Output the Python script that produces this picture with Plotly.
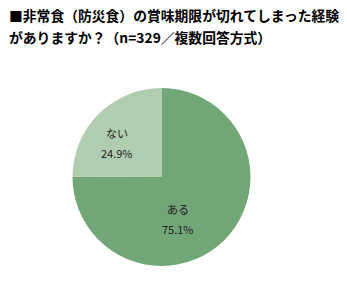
import plotly.graph_objects as go

labels = ["ある", "ない"]
values = [75.1, 24.9]
colors = ["#71A677", "#B1CDB1"]
title_lines = ["■非常食（防災食）の賞味期限が切れてしまった経験",
               "がありますか？（n=329／複数回答方式）"]

W, H = 347, 296
ml, mr, mt, mb = 72, 96, 88, 30
pw, ph = W - ml - mr, H - mt - mb
def px(x): return (x - ml) / pw
def py(y): return (H - mb - y) / ph

# label anchor positions (layout, pixel coords of text block centres)
label_pos = [(178, 219), (117, 143)]

fig = go.Figure(go.Pie(
    labels=labels, values=values, sort=False, direction="clockwise", rotation=0,
    marker=dict(colors=colors, line=dict(width=0)),
    textinfo="none", hoverinfo="none", showlegend=False,
))

for lab, val, (x, y) in zip(labels, values, label_pos):
    fig.add_annotation(text=lab, x=px(x), y=py(y - 10), xref="paper", yref="paper",
                       xanchor="center", yanchor="middle", showarrow=False,
                       font=dict(family="Noto Sans CJK JP", size=11, color="#222222"))
    fig.add_annotation(text=f"{val:.1f}%", x=px(x), y=py(y + 10), xref="paper", yref="paper",
                       xanchor="center", yanchor="middle", showarrow=False,
                       font=dict(family="Noto Sans CJK JP", size=11, color="#222222"))

for t, y in zip(title_lines, [15, 37]):
    fig.add_annotation(text="<b>" + t + "</b>", x=px(7), y=py(y), xref="paper", yref="paper",
                       xanchor="left", yanchor="middle", showarrow=False,
                       font=dict(family="Noto Sans CJK JP", size=13.8, color="#000000"))

fig.update_layout(width=W, height=H, margin=dict(l=ml, r=mr, t=mt, b=mb),
                  paper_bgcolor="white", plot_bgcolor="white")
fig.write_html("out.html")
